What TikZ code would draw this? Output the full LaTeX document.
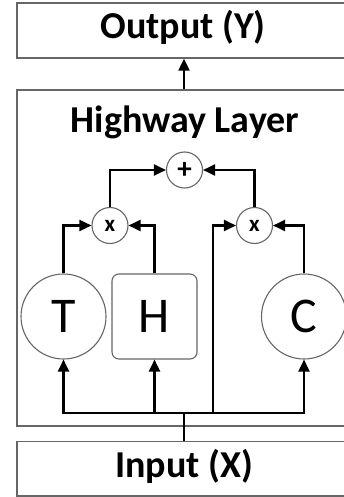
\documentclass[tikz,border=0pt]{standalone}
\usepackage{fontspec}
\setmainfont{Carlito}
\usetikzlibrary{arrows.meta}
\begin{document}
\begin{tikzpicture}[x=1pt,y=-1pt,
  boxst/.style={draw=black!60, line width=1.4pt, minimum width=334pt, inner sep=0pt},
  gate/.style={circle, draw=black!60, line width=1.1pt, minimum size=85pt, inner sep=0pt, font=\fontsize{50}{50}\selectfont},
  hbox/.style={draw=black!60, line width=1.1pt, rounded corners=7pt, minimum width=85pt, minimum height=85pt, inner sep=0pt, font=\fontsize{50}{50}\selectfont},
  op/.style={circle, draw=black!60, line width=1.1pt, minimum size=36pt, inner sep=0pt, font=\bfseries\fontsize{23}{23}\selectfont},
  arr/.style={line width=2.2pt, -{Triangle[length=12pt,width=11pt]}},
  wire/.style={line width=2.2pt},
  title/.style={font=\bfseries\fontsize{38}{40}\selectfont, anchor=base, inner sep=0pt}]
\useasboundingbox (0,0) rectangle (344,497);
\fill[white] (0,0) rectangle (344,497);
% boxes
\node[boxst, minimum height=55pt] (out) at (184,30.5) {};
\node[boxst, minimum height=336pt] (hw) at (184,258) {};
\node[boxst, minimum height=54.5pt] (in) at (184,468.75) {};
\node[title] (outlbl) at (183,38.5) {Output (Y)};
\node[title] (hwlbl) at (185,133) {Highway Layer};
\node[title] (inlbl) at (184,477.5) {Input (X)};
% inner nodes
\node[gate] (T) at (63.5,316.5) {T};
\node[hbox] (H) at (154.5,316.5) {H};
\node[gate] (C) at (304,316.5) {C};
\node[op] (m1) at (110,225.5) {x};
\node[op] (m2) at (254.5,225.5) {x};
\node[op, font=\bfseries\fontsize{29}{29}\selectfont] (p) at (184.5,170) {+};
% connectors
\coordinate (bus) at (184,413);
\coordinate (sk) at (213,413);
\draw[wire] (in.north) -- (bus);
\draw[arr] (bus) -| (T.south);
\draw[arr] (bus) -| (C.south);
\draw[arr] (H.south |- bus) -- (H.south);
\draw[arr] (sk) |- (m2.west);
\draw[arr] (T.north) |- (m1.west);
\draw[arr] (H.north) |- (m1.east);
\draw[arr] (C.north) |- (m2.east);
\draw[arr] (m1.north) |- (p.west);
\draw[arr] (m2.north) |- (p.east);
\draw[arr] (hw.north) -- (out.south);
\end{tikzpicture}
\end{document}
